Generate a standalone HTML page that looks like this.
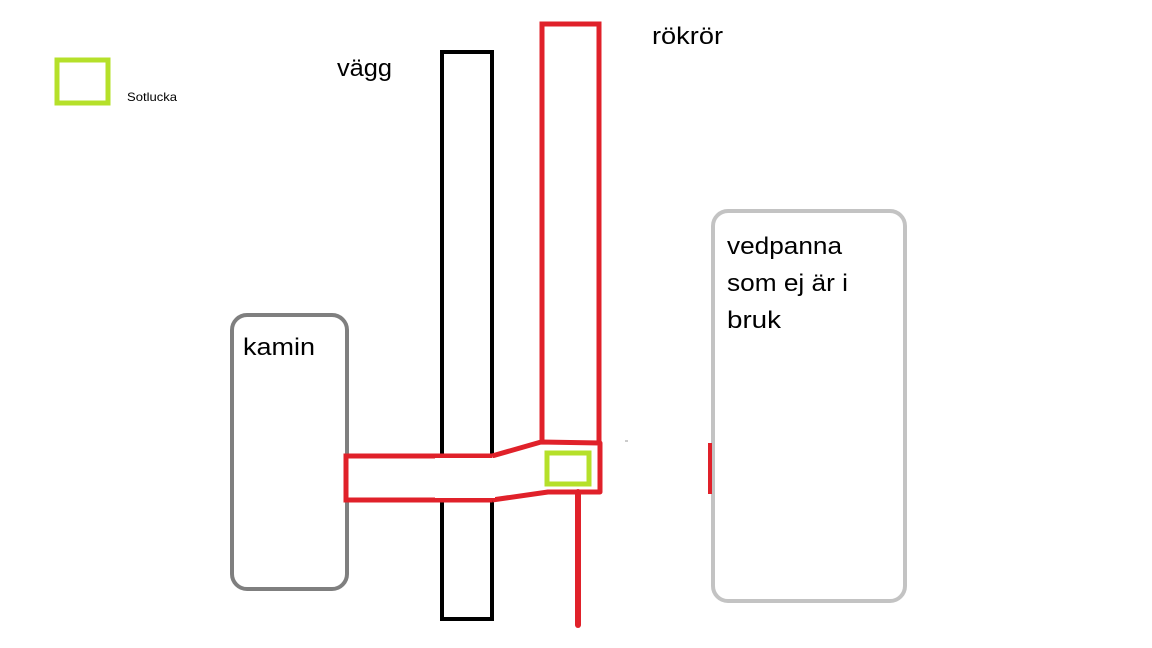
<!DOCTYPE html>
<html><head><meta charset="utf-8"><style>
html,body{margin:0;padding:0;background:#fff;}
svg{display:block;}
text{font-family:"Liberation Sans",sans-serif;fill:#000;}
</style></head><body>
<svg width="1152" height="648" viewBox="0 0 1152 648" xmlns="http://www.w3.org/2000/svg">
<rect width="1152" height="648" fill="#fff"/>
<!-- legend -->
<rect x="57" y="60" width="51" height="43" fill="none" stroke="#b5e02a" stroke-width="5"/>
<text x="127" y="101" font-size="12" textLength="50" lengthAdjust="spacingAndGlyphs">Sotlucka</text>
<text x="337" y="76" font-size="24" textLength="55" lengthAdjust="spacingAndGlyphs">vägg</text>
<text x="652" y="44" font-size="24" textLength="71" lengthAdjust="spacingAndGlyphs">rökrör</text>
<!-- wall -->
<rect x="442" y="52" width="50" height="567" fill="none" stroke="#000" stroke-width="4"/>
<!-- kamin -->
<rect x="232" y="315" width="115" height="274" rx="15" fill="none" stroke="#7f7f7f" stroke-width="4"/>
<text x="243" y="355" font-size="24" textLength="72" lengthAdjust="spacingAndGlyphs">kamin</text>
<!-- vedpanna -->
<rect x="713" y="211" width="192" height="390" rx="15" fill="none" stroke="#c3c3c3" stroke-width="4"/>
<text x="727" y="254" font-size="24" textLength="115" lengthAdjust="spacingAndGlyphs">vedpanna</text>
<text x="727" y="291" font-size="24" textLength="121" lengthAdjust="spacingAndGlyphs">som ej är i</text>
<text x="727" y="328" font-size="24" textLength="54" lengthAdjust="spacingAndGlyphs">bruk</text>
<!-- chimney -->
<rect x="542" y="24" width="57" height="419" fill="#fff" stroke="#e0212a" stroke-width="5"/>
<!-- pipe -->
<path d="M492,456 L346,456 L346,500 L492,500" fill="#fff" stroke="#e0212a" stroke-width="5"/>
<path d="M492,456 L541,442 L600,443 L600,492 L548,492 L492,500" fill="#fff" stroke="#e0212a" stroke-width="5" stroke-linejoin="round"/>
<rect x="435" y="458" width="60" height="40" fill="#fff"/>
<line x1="578" y1="492" x2="578" y2="625" stroke="#e0212a" stroke-width="6" stroke-linecap="round"/>
<rect x="547" y="453" width="42" height="31" fill="none" stroke="#b5e02a" stroke-width="5"/>
<line x1="710" y1="443" x2="710" y2="494" stroke="#e0212a" stroke-width="4"/>
<line x1="625" y1="441" x2="628" y2="441" stroke="#999" stroke-width="1"/>
</svg>
</body></html>
